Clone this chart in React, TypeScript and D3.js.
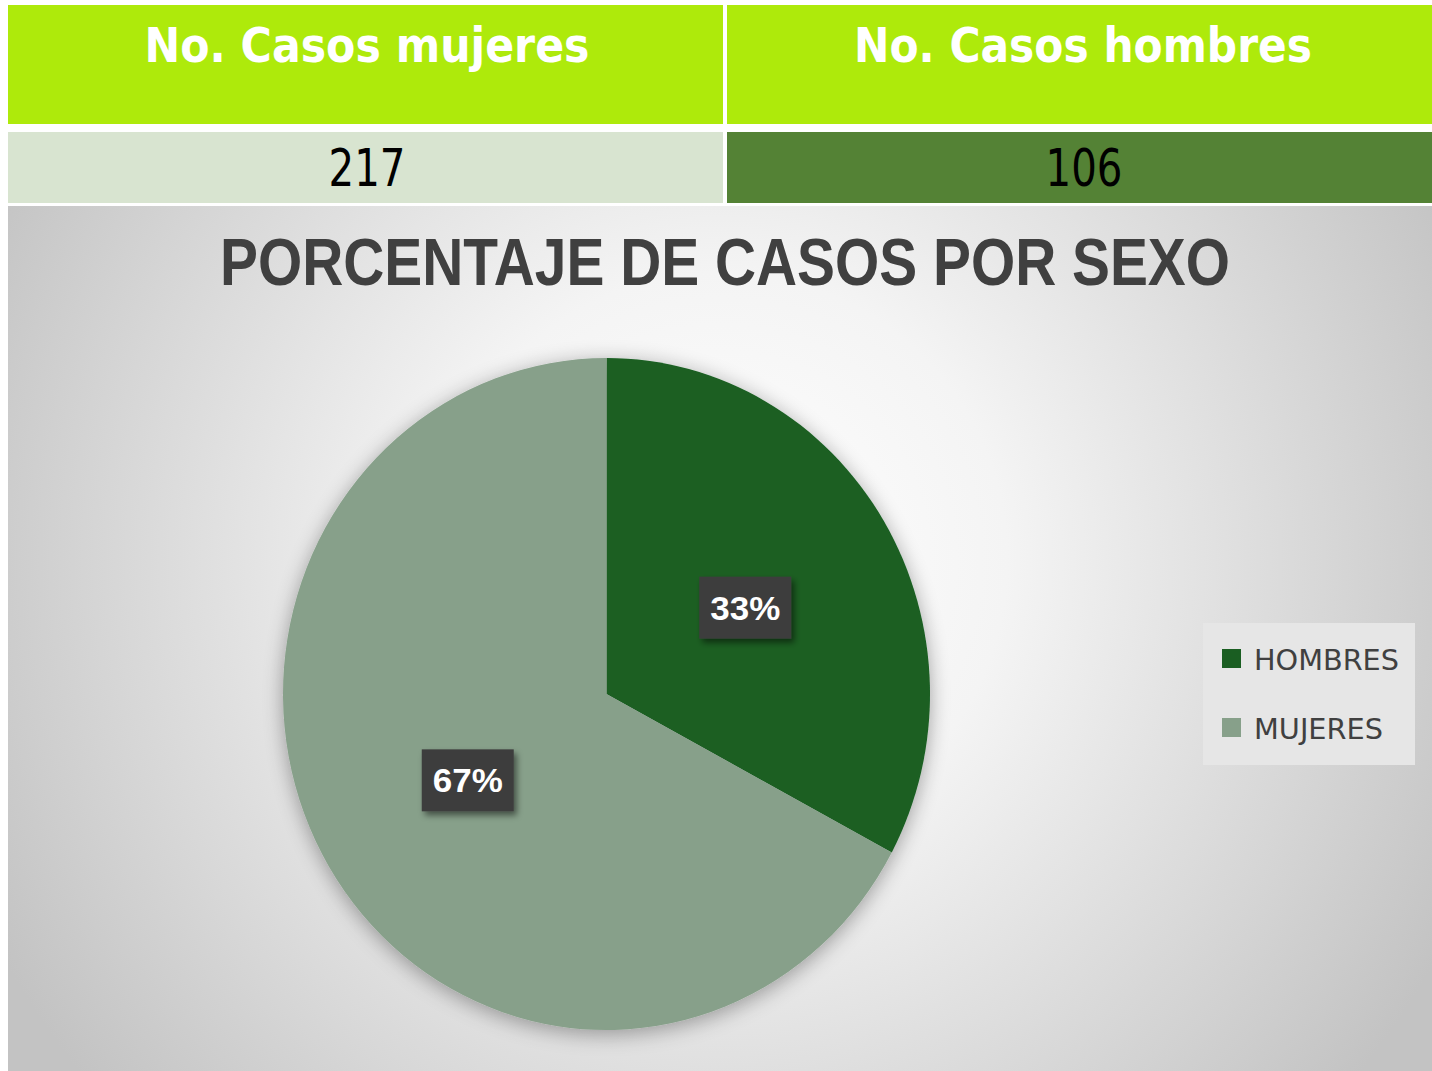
import React from "react";
import * as d3 from "d3";

const categories = ["HOMBRES", "MUJERES"];
const caseCounts = [106, 217];
const percentLabels = ["33%", "67%"];
const headerLabels = ["No. Casos mujeres", "No. Casos hombres"];
const headerValues = ["217", "106"];
const sliceColors = ["#1a5e22", "#87a08a"];
const title = "PORCENTAJE DE CASOS POR SEXO";

export default function App() {
  const W = 1432, H = 1071;
  const cx = 606.5, cy = 694;
  const rx = 323.5, ry = 336;
  const pie = d3.pie<number>().sort(null).value((d) => d);
  const arcs = pie(caseCounts);
  const arc = d3.arc<d3.PieArcDatum<number>>().innerRadius(0).outerRadius(rx);
  const sy = ry / rx;

  const legendY = [659, 728];
  const legendTextLen = [145, 129];

  return (
    <svg width={W} height={H} style={{ position: "absolute", left: 0, top: 0 }}>
      <defs>
        <radialGradient id="bg" gradientUnits="userSpaceOnUse" cx={720} cy={560} r={820}>
          <stop offset="0" stopColor="#ffffff" />
          <stop offset="0.35" stopColor="#f4f4f4" />
          <stop offset="0.75" stopColor="#d6d6d6" />
          <stop offset="1" stopColor="#c3c3c3" />
        </radialGradient>
        <filter id="pieShadow" x="-20%" y="-20%" width="140%" height="140%">
          <feGaussianBlur in="SourceAlpha" stdDeviation="10" />
          <feOffset dx="0" dy="4" result="b" />
          <feComponentTransfer>
            <feFuncA type="linear" slope="0.35" />
          </feComponentTransfer>
          <feMerge>
            <feMergeNode />
            <feMergeNode in="SourceGraphic" />
          </feMerge>
        </filter>
        <filter id="boxShadow" x="-30%" y="-30%" width="160%" height="160%">
          <feGaussianBlur in="SourceAlpha" stdDeviation="3" />
          <feOffset dx="3" dy="4" />
          <feComponentTransfer>
            <feFuncA type="linear" slope="0.5" />
          </feComponentTransfer>
          <feMerge>
            <feMergeNode />
            <feMergeNode in="SourceGraphic" />
          </feMerge>
        </filter>
      </defs>
      <rect x={0} y={0} width={W} height={H} fill="#ffffff" />

      {/* header row */}
      <rect x={8} y={5} width={715} height={119} fill="#aeea0b" />
      <rect x={727} y={5} width={705} height={119} fill="#aeea0b" />
      {headerLabels.map((t, i) => (
        <text
          key={t}
          x={i === 0 ? 367 : 1083}
          y={62}
          textAnchor="middle"
          fontFamily="'DejaVu Sans', Verdana, sans-serif"
          fontWeight="bold"
          fontSize={48}
          fill="#ffffff"
          textLength={i === 0 ? 445 : 458}
          lengthAdjust="spacingAndGlyphs"
        >
          {t}
        </text>
      ))}

      {/* value row */}
      <rect x={8} y={132} width={715} height={71} fill="#d8e4d0" />
      <rect x={727} y={132} width={705} height={71} fill="#548235" />
      {headerValues.map((t, i) => (
        <text
          key={t}
          x={i === 0 ? 367 : 1084}
          y={186}
          textAnchor="middle"
          fontFamily="'DejaVu Sans', Tahoma, sans-serif"
          fontSize={52}
          fill="#000000"
          textLength={77}
          lengthAdjust="spacingAndGlyphs"
        >
          {t}
        </text>
      ))}

      {/* chart area */}
      <rect x={8} y={206} width={1424} height={865} fill="url(#bg)" />
      <text
        x={725}
        y={285}
        textAnchor="middle"
        fontFamily="'Liberation Sans Narrow', 'Liberation Sans', Arial, sans-serif"
        fontWeight="bold"
        fontSize={67}
        fill="#404040"
        textLength={1010}
        lengthAdjust="spacingAndGlyphs"
      >
        {title}
      </text>

      <g transform={`translate(${cx},${cy}) scale(1,${sy})`} filter="url(#pieShadow)">
        {arcs.map((a, i) => (
          <path key={categories[i]} d={arc(a) || ""} fill={sliceColors[i]} />
        ))}
      </g>

      {arcs.map((a, i) => {
        const [x, y] = arc.centroid(a);
        const px = cx + x;
        const py = cy + y * sy;
        return (
          <g key={"lbl" + i} transform={`translate(${px},${py})`}>
            <rect x={-46} y={-31} width={92} height={62} fill="#3d3d3d" filter="url(#boxShadow)" />
            <text
              x={0}
              y={12}
              textAnchor="middle"
              fontFamily="'Liberation Sans', Arial, sans-serif"
              fontWeight="bold"
              fontSize={34}
              fill="#ffffff"
              textLength={70}
              lengthAdjust="spacingAndGlyphs"
            >
              {percentLabels[i]}
            </text>
          </g>
        );
      })}

      {/* legend */}
      <rect x={1203} y={623} width={212} height={142} fill="#e6e6e6" />
      {categories.map((c, i) => (
        <g key={"leg" + c}>
          <rect x={1222} y={legendY[i] - 10} width={19} height={19} fill={sliceColors[i]} />
          <text
            x={1254}
            y={legendY[i] + 11}
            fontFamily="'DejaVu Sans', Tahoma, sans-serif"
            fontSize={29}
            fill="#404040"
            textLength={legendTextLen[i]}
            lengthAdjust="spacingAndGlyphs"
          >
            {c}
          </text>
        </g>
      ))}
    </svg>
  );
}
